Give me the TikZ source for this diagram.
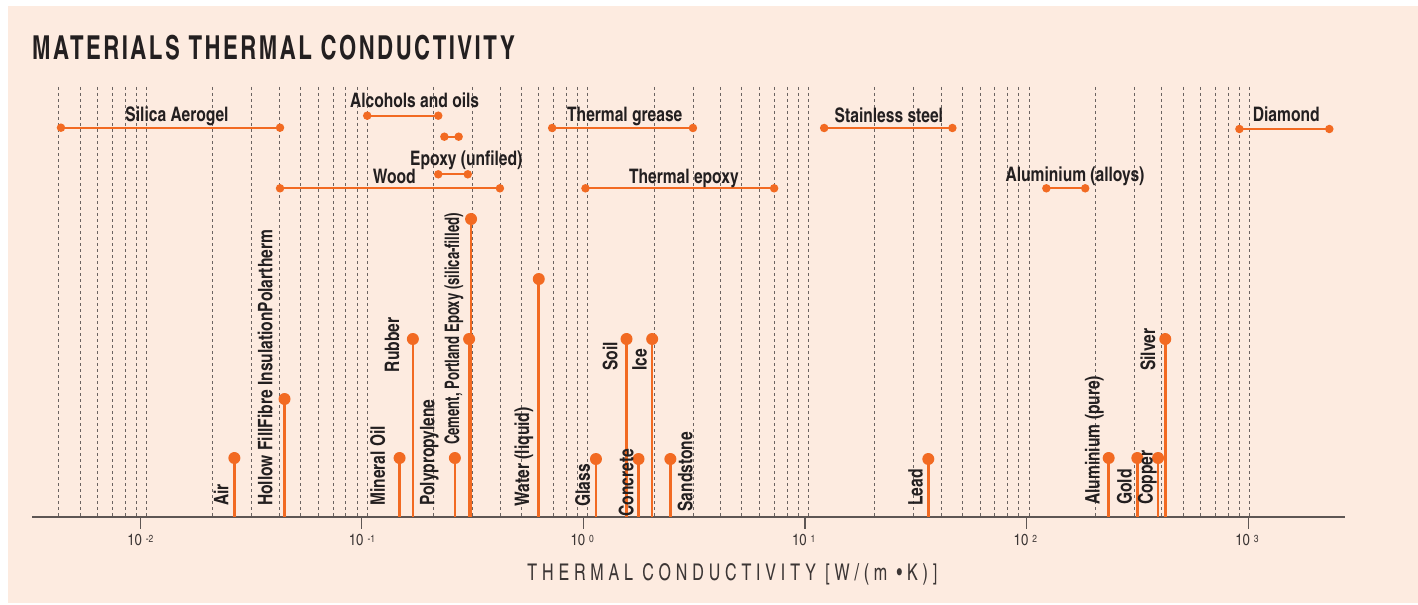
\documentclass[tikz,border=0pt]{standalone}
\usepackage{fontspec}
\setmainfont{texgyreheroscn-regular.otf}
\newfontfamily\labelfont[FakeStretch=0.95]{texgyreheroscn-bold.otf}
\newfontfamily\squeezefont[FakeStretch=0.8]{texgyreheroscn-bold.otf}
\newfontfamily\titlefont[FakeStretch=0.82,LetterSpace=7.5]{texgyreheroscn-bold.otf}
\newfontfamily\axisfont[FakeStretch=0.85,LetterSpace=21]{texgyreheroscn-regular.otf}
\usepackage{tikz}
\definecolor{peach}{HTML}{FDEBE0}
\definecolor{burnt}{HTML}{F26A22}
\definecolor{ink}{HTML}{231F20}
\definecolor{lightink}{HTML}{3C3635}
\definecolor{gridgray}{HTML}{6B6361}
\definecolor{axisgray}{HTML}{5E5654}

\begin{document}
\begin{tikzpicture}[x=220.6pt,y=-1pt,
		gridline/.style={gridgray,line width=0.8pt,dash pattern=on 3pt off 3pt},
		axisline/.style={axisgray,line width=1.8pt},
		rangebar/.style={burnt,line width=2pt},
		stem/.style={burnt,line width=2.6pt},
		bardot/.style={circle,inner sep=0pt,minimum size=8.5pt,fill=burnt},
		stemdot/.style={circle,inner sep=0pt,minimum size=12pt,fill=burnt},
		rangelabel/.style={anchor=base west,inner sep=0pt,text=ink,font=\labelfont\fontsize{20}{23}\selectfont},
		stemlabel/.style={rangelabel,rotate=90},
		ticklabel/.style={anchor=base west,inner sep=0pt,text=lightink,font=\fontsize{16}{18}\selectfont}]
	\useasboundingbox (-2.6641,0) rectangle (3.7638,604);
	\fill[peach] (-2.6278,6) rectangle (3.7638,603);
	\node[anchor=base west,inner sep=0pt,text=ink,font=\titlefont\fontsize{33}{36}\selectfont] (title) at (-2.519,60) {MATERIALS THERMAL CONDUCTIVITY};
	% grid, 4e-3 up to 1e3
	\foreach \e in {-3,...,2}
		\foreach \m in {1,...,9}
			{\ifnum\numexpr10*\e+\m\relax>-27 \draw[gridline] ({\e+log10(\m)},87) -- ({\e+log10(\m)},517);\fi}
	\draw[gridline] (3,87) -- (3,517);
	% axis
	\coordinate (axis-l) at (-2.519,517);
	\coordinate (axis-r) at (3.433,517);
	\draw[axisline] (axis-l) -- (axis-r);
	\foreach \n in {-2,...,3}
		{\draw[axisline,line width=1.2pt] ({1.00453*\n-0.0199},517) -- ++(0,12);
		\node[ticklabel] (tick\n) at ({1.00453*\n-0.0788},545.7) {10\kern4pt\raisebox{3.5pt}{\fontsize{10.3}{11}\selectfont\n}};}
	\node[anchor=base,inner sep=0pt,text=lightink,font=\axisfont\fontsize{23}{26}\selectfont] (xlabel) at (0.6557,580.5) {THERMAL CONDUCTIVITY [W/(m •K)]};
	% ranges
	\coordinate (aerogel-a) at ({log10(0.004)},127.7);
	\coordinate (aerogel-b) at ({log10(0.04)},127.7);
	\coordinate (alcohol-a) at ({log10(0.1)},115.7);
	\coordinate (alcohol-b) at ({log10(0.21)},115.7);
	\coordinate (short-a) at ({log10(0.224)},136.7);
	\coordinate (short-b) at ({log10(0.26)},136.7);
	\coordinate (epoxyuf-a) at ({log10(0.21)},174.3);
	\coordinate (epoxyuf-b) at ({log10(0.286)},174.3);
	\coordinate (wood-a) at ({log10(0.04)},188.3);
	\coordinate (wood-b) at ({log10(0.4)},188.3);
	\coordinate (grease-a) at ({log10(0.69)},128);
	\coordinate (grease-b) at ({log10(3)},128);
	\coordinate (tepoxy-a) at ({log10(0.977)},188.3);
	\coordinate (tepoxy-b) at ({log10(7)},188.3);
	\coordinate (steel-a) at ({log10(11.8)},128);
	\coordinate (steel-b) at ({log10(45)},128);
	\coordinate (alalloy-a) at ({log10(120)},188.3);
	\coordinate (alalloy-b) at ({log10(180)},188.3);
	\coordinate (diamond-a) at ({log10(900)},129);
	\coordinate (diamond-b) at ({log10(2300)},129);
	\foreach \Range in {aerogel,alcohol,short,epoxyuf,wood,grease,tepoxy,steel,alalloy,diamond}
		{\draw[rangebar] (\Range-a) -- (\Range-b);
		\node[bardot] (\Range-a-dot) at (\Range-a) {};
		\node[bardot] (\Range-b-dot) at (\Range-b) {};}
	\node[rangelabel] (aerogel-label) at (-2.0961,121.7) {Silica Aerogel};
	\node[rangelabel] (alcohol-label) at (-1.0780,107.3) {Alcohols and oils};
	\node[rangelabel] (epoxyuf-label) at (-0.8055,165.7) {Epoxy (unfiled)};
	\node[rangelabel] (wood-label) at (-0.9742,183.3) {Wood};
	\node[rangelabel] (grease-label) at (-0.0938,121.7) {Thermal grease};
	\node[rangelabel] (tepoxy-label) at (0.1872,183.3) {Thermal epoxy};
	\node[rangelabel] (steel-label) at (1.1188,122.3) {Stainless steel};
	\node[rangelabel] (alalloy-label) at (1.8935,181) {Aluminium (alloys)};
	\node[rangelabel] (diamond-label) at (3.0145,121.7) {Diamond};
	% single values
	\coordinate (air) at ({log10(0.025)},458);
	\coordinate (hollow) at ({log10(0.042)},399);
	\coordinate (oil) at ({log10(0.138)},458);
	\coordinate (rubber) at ({log10(0.16)},339);
	\coordinate (polyprop) at ({log10(0.25)},458);
	\coordinate (cement) at ({log10(0.29)},339);
	\coordinate (epoxysf) at ({log10(0.296)},219);
	\coordinate (water) at ({log10(0.6)},279);
	\coordinate (glass) at ({log10(1.09)},459);
	\coordinate (soil) at ({log10(1.5)},339);
	\coordinate (concrete) at ({log10(1.7)},459);
	\coordinate (ice) at ({log10(1.96)},339);
	\coordinate (sandstone) at ({log10(2.37)},459);
	\coordinate (lead) at ({log10(35)},459);
	\coordinate (alpure) at ({log10(230)},458);
	\coordinate (gold) at ({log10(310)},458);
	\coordinate (copper) at ({log10(385)},458);
	\coordinate (silver) at ({log10(415)},339);
	\foreach \Value in {air,hollow,oil,rubber,polyprop,cement,epoxysf,water,glass,soil,concrete,ice,sandstone,lead,alpure,gold,copper,silver}
		\draw[stem] (\Value |- axis-l) -- (\Value);
	\foreach \Value in {air,hollow,oil,rubber,polyprop,cement,epoxysf,water,glass,soil,concrete,ice,sandstone,lead,alpure,gold,copper,silver}
		\node[stemdot] (\Value-dot) at (\Value) {};
	\node[stemlabel] (air-label) at (-1.6292,506) {Air};
	\node[stemlabel] (hollow-label) at (-1.4297,506) {Hollow FillFibre InsulationPolartherm};
	\node[stemlabel] (oil-label) at (-0.9189,506) {Mineral Oil};
	\node[stemlabel] (rubber-label) at (-0.8554,372.3) {Rubber};
	\node[stemlabel] (polyprop-label) at (-0.6945,506) {Polypropylene};
	\node[stemlabel,font=\squeezefont\fontsize{20}{23}\selectfont] (cement-label) at (-0.5834,445) {Cement, Portland Epoxy (silica-filled)};
	\node[stemlabel] (water-label) at (-0.2661,506.7) {Water (liquid)};
	\node[stemlabel] (glass-label) at (0.0104,506.7) {Glass};
	\node[stemlabel] (soil-label) at (0.1342,371) {Soil};
	\node[stemlabel] (concrete-label) at (0.2067,516.7) {Concrete};
	\node[stemlabel] (ice-label) at (0.2675,370.7) {Ice};
	\node[stemlabel] (sandstone-label) at (0.4742,511.7) {Sandstone};
	\node[stemlabel] (lead-label) at (1.5177,506) {Lead};
	\node[stemlabel] (alpure-label) at (2.3200,505) {Aluminium (pure)};
	\node[stemlabel] (gold-label) at (2.4660,505) {Gold};
	\node[stemlabel] (copper-label) at (2.5603,505) {Copper};
	\node[stemlabel] (silver-label) at (2.5716,371) {Silver};
\end{tikzpicture}
\end{document}
